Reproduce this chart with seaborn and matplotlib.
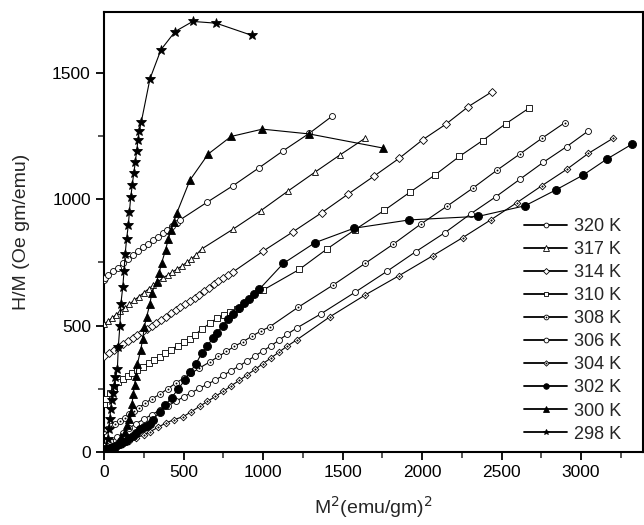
import matplotlib
matplotlib.use("Agg")
import matplotlib.pyplot as plt
import seaborn as sns
from matplotlib.lines import Line2D
from matplotlib.path import Path
from matplotlib.ticker import MultipleLocator

# Arrott plot data, M^2 (emu/gm)^2 vs H/M (Oe gm/emu)
m2_320 = [0, 6, 27, 59, 90, 121, 150, 184, 216, 247, 279, 310, 342, 373, 394, 425, 457, 478, 646, 813, 977, 1128, 1290, 1432]
hm_320 = [680, 690, 700, 714, 728, 748, 765, 780, 795, 810, 824, 838, 852, 866, 878, 892, 906, 918, 987, 1054, 1125, 1192, 1260, 1327]

m2_317 = [0, 25, 50, 75, 100, 130, 160, 190, 220, 250, 280, 310, 340, 370, 400, 430, 460, 490, 520, 550, 580, 614, 813, 987, 1159, 1327, 1484, 1642]
hm_317 = [505, 518, 530, 543, 556, 570, 585, 600, 615, 630, 645, 660, 674, 688, 700, 712, 724, 736, 750, 764, 780, 803, 882, 955, 1033, 1107, 1175, 1241]

m2_314 = [0, 30, 60, 90, 120, 150, 180, 210, 240, 270, 300, 330, 360, 390, 420, 450, 480, 510, 540, 570, 600, 630, 660, 690, 720, 750, 780, 813, 1002, 1191, 1368, 1537, 1700, 1857, 2004, 2151, 2291, 2440]
hm_314 = [378, 390, 402, 414, 426, 438, 450, 462, 474, 486, 498, 510, 522, 535, 548, 560, 573, 586, 598, 610, 622, 636, 650, 663, 676, 688, 700, 713, 795, 872, 946, 1021, 1092, 1162, 1235, 1297, 1366, 1425]

m2_310 = [0, 15, 35, 60, 90, 120, 150, 174, 210, 245, 280, 315, 352, 385, 420, 467, 500, 540, 572, 614, 667, 708, 755, 792, 834, 1002, 1228, 1400, 1580, 1763, 1925, 2082, 2235, 2381, 2526, 2673]
hm_310 = [190, 210, 235, 255, 275, 290, 300, 311, 325, 338, 352, 365, 377, 390, 405, 421, 435, 448, 463, 486, 509, 529, 542, 555, 565, 641, 722, 802, 880, 956, 1028, 1096, 1169, 1232, 1298, 1360]

m2_308 = [0, 20, 45, 70, 100, 130, 160, 190, 220, 258, 300, 350, 400, 450, 500, 550, 600, 667, 720, 770, 820, 876, 930, 985, 1044, 1222, 1442, 1642, 1819, 1991, 2159, 2318, 2470, 2616, 2752, 2899]
hm_308 = [85, 92, 102, 112, 124, 136, 150, 162, 175, 193, 210, 228, 250, 272, 292, 312, 332, 357, 378, 398, 418, 437, 458, 478, 496, 573, 661, 746, 822, 901, 973, 1043, 1114, 1179, 1240, 1303]

m2_306 = [0, 40, 80, 120, 160, 200, 250, 300, 350, 400, 450, 500, 550, 600, 650, 700, 750, 800, 850, 900, 950, 1000, 1050, 1100, 1150, 1211, 1363, 1579, 1778, 1962, 2145, 2306, 2465, 2616, 2763, 2910, 3046]
hm_306 = [25, 42, 58, 75, 95, 112, 130, 148, 165, 182, 200, 218, 235, 252, 268, 285, 303, 322, 340, 360, 380, 400, 420, 442, 465, 490, 546, 632, 714, 793, 868, 942, 1010, 1079, 1146, 1208, 1270]

m2_304 = [0, 40, 80, 120, 160, 200, 250, 289, 340, 390, 440, 499, 550, 604, 650, 700, 750, 800, 850, 900, 950, 1000, 1050, 1100, 1150, 1211, 1421, 1642, 1857, 2067, 2256, 2432, 2596, 2753, 2910, 3046, 3199]
hm_304 = [0, 10, 20, 32, 44, 55, 68, 80, 98, 115, 128, 140, 160, 182, 200, 220, 240, 262, 283, 305, 327, 350, 372, 395, 418, 443, 535, 621, 698, 776, 848, 918, 986, 1053, 1118, 1181, 1240]

m2_302 = [0, 20, 40, 59, 80, 100, 120, 140, 160, 180, 200, 225, 250, 270, 289, 310, 350, 384, 425, 467, 509, 541, 579, 614, 650, 683, 708, 746, 782, 813, 851, 881, 914, 946, 977, 1128, 1327, 1572, 1920, 2354, 2648, 2843, 3015, 3161, 3319]
hm_302 = [0, 8, 14, 21, 27, 33, 38, 45, 55, 65, 77, 90, 98, 104, 112, 127, 160, 185, 215, 250, 285, 315, 350, 390, 419, 450, 470, 499, 525, 546, 568, 588, 607, 625, 644, 746, 828, 885, 918, 932, 974, 1037, 1096, 1158, 1217]

m2_300 = [0, 30, 60, 90, 110, 130, 145, 158, 168, 176, 184, 192, 200, 210, 231, 243, 254, 268, 289, 300, 331, 346, 363, 387, 404, 421, 440, 457, 541, 656, 799, 996, 1291, 1757]
hm_300 = [0, 10, 22, 40, 58, 80, 105, 130, 158, 190, 230, 265, 300, 348, 404, 446, 496, 535, 586, 630, 674, 707, 749, 799, 842, 878, 911, 944, 1076, 1179, 1248, 1277, 1258, 1202]

m2_298 = [0, 12, 22, 30, 36, 42, 48, 55, 62, 72, 84, 90, 100, 106, 118, 126, 133, 142, 153, 160, 168, 178, 187, 197, 205, 214, 222, 235, 289, 358, 447, 558, 706, 929]
hm_298 = [0, 20, 50, 90, 130, 170, 205, 235, 262, 295, 327, 417, 500, 586, 652, 717, 783, 842, 898, 951, 1008, 1057, 1103, 1146, 1191, 1233, 1270, 1307, 1476, 1591, 1663, 1703, 1696, 1648]

labels = ["320 K", "317 K", "314 K", "310 K", "308 K", "306 K", "304 K", "302 K", "300 K", "298 K"]

# circle / diamond with a small dot in the middle
odot = Path.make_compound_path(Path.unit_circle(), Path.circle((0, 0), 0.18))
ddot = Path.make_compound_path(
    Path([(0, 1), (1, 0), (0, -1), (-1, 0), (0, 1)], closed=True),
    Path.circle((0, 0), 0.18))

series = [
    (m2_320, hm_320, "o", 4.3, "white"),
    (m2_317, hm_317, "^", 4.8, "white"),
    (m2_314, hm_314, "D", 3.8, "white"),
    (m2_310, hm_310, "s", 4.3, "white"),
    (m2_308, hm_308, odot, 4.3, "white"),
    (m2_306, hm_306, "o", 4.3, "white"),
    (m2_304, hm_304, ddot, 4.8, "white"),
    (m2_302, hm_302, "o", 5.8, "black"),
    (m2_300, hm_300, "^", 6.3, "black"),
    (m2_298, hm_298, "*", 7, "black"),
]

sns.set_style("ticks")
plt.rcParams['font.family'] = ['Liberation Sans', 'DejaVu Sans']

fig = plt.figure(figsize=(6.44, 5.25), dpi=100)
ax = fig.add_axes([0.1615, 0.139, 0.837, 0.838])

handles = []
for i, (xs, ys, mk, ms, fc) in enumerate(series):
    sns.lineplot(x=xs, y=ys, ax=ax, sort=False, estimator=None, color="black",
                 marker=mk, markersize=ms, markerfacecolor=fc, markeredgecolor="black",
                 markeredgewidth=0.6, linewidth=0.8, legend=False, zorder=3 + i)
    handles.append(Line2D([], [], color="black", lw=1.3, marker=mk,
                          markersize=min(ms, 5) * 0.8, markerfacecolor=fc,
                          markeredgecolor="black", markeredgewidth=0.6))

ax.set_xlim(0, 3390)
ax.set_ylim(0, 1740)
ax.xaxis.set_major_locator(MultipleLocator(500))
ax.xaxis.set_minor_locator(MultipleLocator(250))
ax.yaxis.set_major_locator(MultipleLocator(500))
ax.yaxis.set_minor_locator(MultipleLocator(250))
ax.tick_params(which="major", direction="out", length=6, width=1.3, labelsize=12.5, colors="black")
ax.tick_params(which="minor", direction="out", length=4, width=1.1)
for sp in ax.spines.values():
    sp.set_linewidth(1.5)
    sp.set_color("black")

ax.set_xlabel("M$^2$(emu/gm)$^2$", fontsize=14, labelpad=10)
ax.set_ylabel("H/M (Oe gm/emu)", fontsize=14, labelpad=16)

ax.legend(handles, labels, loc="upper left", bbox_to_anchor=(0.766, 0.548),
          frameon=False, fontsize=13, handlelength=2.4, handletextpad=0.35,
          labelspacing=0.335, borderaxespad=0)

fig.savefig("out.png", dpi=100)
